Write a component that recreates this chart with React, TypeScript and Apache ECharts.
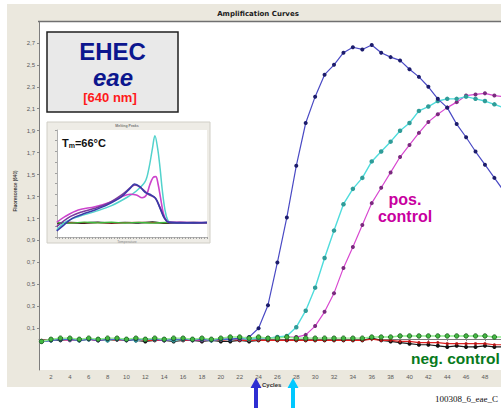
import React, { useEffect, useRef } from "react";
import * as echarts from "echarts";

// ---------- main amplification data (cycles 1..50) ----------
const cycles = [1,2,3,4,5,6,7,8,9,10,11,12,13,14,15,16,17,18,19,20,21,22,23,24,25,26,27,28,29,30,31,32,33,34,35,36,37,38,39,40,41,42,43,44,45,46,47,48,49,50];

const blueSample = [-0.02,-0.01,0.00,0.00,-0.01,0.00,-0.01,0.00,0.00,-0.01,0.00,0.00,0.00,-0.01,0.00,0.00,-0.01,0.00,-0.01,0.00,0.00,0.01,0.02,
  0.10,0.31,0.70,1.11,1.58,1.97,2.21,2.41,2.50,2.61,2.66,2.64,2.68,2.61,2.57,2.54,2.46,2.39,2.30,2.19,2.11,1.96,1.84,1.71,1.59,1.47,1.35];

const cyanSample = [-0.02,-0.01,0.00,0.00,-0.01,0.00,0.00,-0.01,0.00,0.00,-0.01,0.00,0.00,0.00,-0.01,0.00,0.00,0.00,-0.01,0.00,0.00,0.01,0.00,0.01,0.01,0.02,
  0.03,0.11,0.26,0.47,0.74,0.99,1.23,1.37,1.47,1.62,1.71,1.80,1.90,1.97,2.08,2.12,2.17,2.19,2.19,2.21,2.19,2.17,2.14,2.11];

const magentaPos = [-0.02,-0.01,0.00,-0.01,0.00,0.00,-0.01,0.00,0.00,0.00,-0.01,0.00,0.00,-0.01,0.00,0.00,0.00,-0.01,0.00,0.00,0.01,0.00,0.01,0.01,0.01,0.02,0.02,
  0.02,0.04,0.12,0.25,0.42,0.65,0.84,1.04,1.24,1.38,1.52,1.66,1.77,1.88,1.98,2.05,2.11,2.16,2.22,2.23,2.24,2.22,2.21];

const greenNeg = [-0.02,0.00,0.01,0.01,0.00,0.01,0.00,0.01,0.01,0.00,0.01,0.00,0.01,0.00,0.01,0.01,0.00,0.01,0.00,0.01,0.02,0.02,0.01,0.02,0.01,
  0.01,0.02,0.01,0.01,0.01,0.01,0.01,0.01,0.01,0.01,0.02,0.02,0.02,0.03,0.03,0.03,0.03,0.03,0.03,0.03,0.03,0.03,0.03,0.02,0.02];

const blackNeg = [-0.02,-0.01,-0.01,0.00,-0.01,0.00,-0.01,-0.01,0.00,-0.01,-0.01,-0.02,-0.01,-0.01,-0.02,-0.01,-0.01,-0.02,-0.01,-0.02,-0.02,-0.01,-0.02,-0.01,-0.01,
  -0.01,-0.01,-0.01,-0.01,-0.01,-0.01,-0.01,-0.01,-0.01,-0.01,0.01,-0.01,-0.02,-0.03,-0.04,-0.05,-0.05,-0.06,-0.07,-0.06,-0.07,-0.07,-0.06,-0.07,-0.07];

const redNeg = [-0.01,-0.01,0.00,-0.01,-0.01,0.00,-0.01,-0.01,-0.01,0.00,-0.01,-0.01,-0.01,-0.01,0.00,-0.01,-0.01,-0.01,-0.01,-0.01,0.00,-0.01,-0.01,-0.01,-0.01,
  -0.01,-0.01,-0.01,-0.01,-0.01,-0.01,-0.01,-0.01,-0.01,-0.01,0.00,-0.01,-0.01,-0.02,-0.02,-0.03,-0.03,-0.03,-0.04,-0.04,-0.04,-0.04,-0.04,-0.05,-0.05];

const xTickLabels = [2,4,6,8,10,12,14,16,18,20,22,24,26,28,30,32,34,36,38,40,42,44,46,48];
const yTickLabels = [0.1,0.3,0.5,0.7,0.9,1.1,1.3,1.5,1.7,1.9,2.1,2.3,2.5,2.7];

// ---------- inset melting peaks: [temperature, -dF/dT] ----------
const meltCyan = [[39.9,6.5],[42.9,13.7],[47.8,19.0],[53.9,23.7],[60.0,29.3],[66.1,37.7],[69.1,43.0],[72.3,51.7],[73.7,64.2],[75.0,82.9],[75.9,94.7],[76.9,82.9],[77.8,64.2],[78.6,43.9],[79.6,25.2],[80.6,15.9],[81.8,13.7],[88,13.4],[95,13.6]];
const meltBlue = [[39.9,5.6],[42.5,11.2],[45.6,17.4],[49.3,21.2],[53.9,25.2],[58.8,30.5],[63.7,37.7],[66.8,45.5],[68.4,49.5],[70.4,47.0],[72.3,41.7],[74.5,39.3],[76.2,36.1],[77.8,26.8],[79.4,17.4],[81.1,13.7],[88,13.2],[95,13.5]];
const meltPurple = [[39.9,9.7],[44.8,19.0],[49.3,23.7],[53.9,26.8],[58.8,31.5],[63.7,39.3],[67.4,47.0],[68.6,48.6],[71.0,45.5],[73.5,39.9],[75.9,36.7],[77.8,27.4],[79.4,18.1],[81.1,13.7],[88,13.5],[95,13.3]];
const meltMagenta = [[39.9,13.7],[42.9,19.0],[47.8,25.2],[53.9,28.3],[60.0,33.0],[64.3,38.3],[66.8,39.9],[69.1,39.3],[71.2,36.7],[72.8,39.3],[74.0,48.6],[75.2,55.5],[76.2,56.4],[77.0,50.2],[78.0,36.1],[79.0,22.1],[80.2,15.0],[81.5,13.7],[88,13.6],[95,13.4]];
const meltBlack = [[40,12.6],[45,13.4],[50,13.0],[55,13.8],[60,12.9],[65,13.6],[70,13.1],[75,13.9],[80,12.8],[85,13.5],[90,13.0],[95,13.4]];
const meltGreen = [[40,13.6],[45,13.0],[50,13.9],[55,13.2],[60,13.8],[65,13.1],[70,13.7],[75,13.0],[80,13.6],[85,13.1],[90,13.7],[95,13.2]];
const meltRed = [[40,13.3],[50,13.5],[60,13.2],[70,13.6],[80,13.3],[90,13.5],[95,13.3]];

const pairs = (vals: number[]) => cycles.map((c, i) => [c, vals[i]]);

export default function App() {
  const ref = useRef<HTMLDivElement>(null);
  useEffect(() => {
    if (!ref.current) return;
    const chart = echarts.init(ref.current, undefined, { renderer: "svg" });
    const lbl = { fontSize: 6, color: "#5a5a5a", fontFamily: "Liberation Sans" };
    const mainLine = (name: string, vals: number[], line: string, dot: string, size = 4, width = 1.2, z = 2, border?: string) => ({
      name, type: "line", data: pairs(vals), xAxisIndex: 0, yAxisIndex: 0,
      symbol: "circle", symbolSize: size, showSymbol: true, z,
      lineStyle: { color: line, width },
      itemStyle: { color: dot, borderColor: border || dot, borderWidth: border ? 0.8 : 0 },
      emphasis: { disabled: true },
    });
    const meltLine = (name: string, data: number[][], color: string, width = 1.5) => ({
      name, type: "line", data, xAxisIndex: 1, yAxisIndex: 1, symbol: "none", smooth: 0.35, z: 12,
      lineStyle: { color, width },
    });
    const option: any = {
      animation: false,
      backgroundColor: "#ffffff",
      grid: [
        { left: 39, top: 22, width: 462, height: 348, show: false },
        { left: 57, top: 130, width: 150, height: 107, show: false },
      ],
      xAxis: [
        {
          gridIndex: 0, type: "value", min: 0.73, max: 49.7,
          axisLine: { show: true, lineStyle: { color: "#7d7d7d", width: 1 } },
          axisTick: { show: true, customValues: xTickLabels, length: 2, lineStyle: { color: "#8a8a8a" } },
          axisLabel: { ...lbl, customValues: xTickLabels, margin: 4 },
          splitLine: { show: false },
        },
        {
          gridIndex: 1, type: "value", min: 40, max: 95, interval: 1, z: 12,
          axisLine: { show: true, lineStyle: { color: "#b0b0b0" } },
          axisTick: { show: true, length: 2, lineStyle: { color: "#a0a0a0" } },
          axisLabel: { show: false }, splitLine: { show: false },
        },
      ],
      yAxis: [
        {
          gridIndex: 0, type: "value", min: -0.28, max: 2.89,
          axisLine: { show: true, lineStyle: { color: "#7d7d7d", width: 1 } },
          axisTick: { show: true, customValues: yTickLabels, length: 2, lineStyle: { color: "#8a8a8a" } },
          axisLabel: { ...lbl, customValues: yTickLabels, margin: 4, formatter: (v: number) => (Math.round(v * 10) / 10).toFixed(1).replace(".", ",") },
          splitLine: { show: false },
        },
        {
          gridIndex: 1, type: "value", min: 0, max: 100, interval: 10, z: 12,
          axisLine: { show: true, lineStyle: { color: "#b0b0b0" } },
          axisTick: { show: true, length: 2, lineStyle: { color: "#a0a0a0" } },
          axisLabel: { show: false }, splitLine: { show: false },
        },
      ],
      graphic: [
        { type: "rect", z: -10, shape: { x: 7, y: 4, width: 494, height: 383 }, style: { fill: "#ebe8de" } },
        { type: "rect", z: -9, shape: { x: 39, y: 22, width: 462, height: 348 }, style: { fill: "#ffffff" } },
        { type: "line", z: -8, shape: { x1: 38, y1: 21.5, x2: 501, y2: 21.5 }, style: { stroke: "#707070", lineWidth: 1.5 } },
        { type: "text", z: 5, x: 258, y: 13.5, style: { text: "Amplification Curves", font: "bold 7px 'DejaVu Sans'", fill: "#1a1a1a", align: "center", verticalAlign: "middle" } },
        { type: "text", z: 5, x: 15, y: 191, rotation: Math.PI / 2, style: { text: "Fluorescence (640)", font: "bold 4.5px 'Liberation Sans'", fill: "#3a3a3a", align: "center", verticalAlign: "middle" } },
        { type: "text", z: 5, x: 262, y: 385, style: { text: "Cycles", font: "bold 6px 'Liberation Sans'", fill: "#333", align: "left", verticalAlign: "middle" } },
        // EHEC box
        { type: "rect", z: 5, shape: { x: 47, y: 32, width: 131, height: 80 }, style: { fill: "#e9e9e9", stroke: "#1f1f1f", lineWidth: 1.5 } },
        { type: "text", z: 6, x: 112.5, y: 51.5, style: { text: "EHEC", font: "bold 24px 'Liberation Sans'", fill: "#0c168e", align: "center", verticalAlign: "middle" } },
        { type: "text", z: 6, x: 113, y: 77, style: { text: "eae", font: "italic bold 24px 'Liberation Sans'", fill: "#0c168e", align: "center", verticalAlign: "middle" } },
        { type: "text", z: 6, x: 110, y: 97.5, style: { text: "[640 nm]", font: "bold 13px 'Liberation Sans'", fill: "#ff1a1a", align: "center", verticalAlign: "middle" } },
        // inset frame
        { type: "rect", z: 5, shape: { x: 47, y: 122, width: 163, height: 121 }, style: { fill: "#eeece6", stroke: "#d0cec6", lineWidth: 1 } },
        { type: "rect", z: 6, shape: { x: 57, y: 130, width: 150, height: 107 }, style: { fill: "#ffffff" } },
        { type: "text", z: 7, x: 127, y: 126, style: { text: "Melting Peaks", font: "bold 3.5px 'Liberation Sans'", fill: "#777", align: "center", verticalAlign: "middle" } },
        { type: "text", z: 7, x: 127, y: 241.5, style: { text: "Temperature", font: "3.5px 'Liberation Sans'", fill: "#888", align: "center", verticalAlign: "middle" } },
        { type: "text", z: 14, x: 62, y: 143, style: { rich: { a: { font: "bold 11px 'Liberation Sans'", fill: "#111" }, b: { font: "bold 7px 'Liberation Sans'", fill: "#111", padding: [5, 0, 0, 0] } }, text: "{a|T}{b|m}{a|=66°C}", verticalAlign: "middle" } },
        // annotations
        { type: "text", z: 20, x: 405, y: 207.5, style: { text: "pos.\ncontrol", font: "bold 16px 'Liberation Sans'", lineHeight: 17, fill: "#c800a0", align: "center", verticalAlign: "middle" } },
        { type: "text", z: 20, x: 411, y: 358, style: { text: "neg. control", font: "bold 15.5px 'Liberation Sans'", fill: "#077a1c", align: "left", verticalAlign: "middle" } },
        // arrows
        { type: "polygon", z: 20, shape: { points: [[256, 378], [261.5, 388], [258, 388], [258, 408], [254, 408], [254, 388], [250.5, 388]] }, style: { fill: "#2e2ed2" } },
        { type: "polygon", z: 20, shape: { points: [[293, 378], [298.5, 388], [295, 388], [295, 408], [291, 408], [291, 388], [287.5, 388]] }, style: { fill: "#00c8ff" } },
        { type: "text", z: 20, x: 435, y: 399, style: { text: "100308_6_eae_C", font: "9px 'Liberation Serif'", fill: "#111", align: "left", verticalAlign: "middle" } },
      ],
      series: [
        mainLine("neg black", blackNeg, "#1a1a1a", "#111111", 4, 1.2, 2),
        mainLine("neg red", redNeg, "#e02020", "#b01515", 3, 1.2, 2),
        mainLine("pos. control", magentaPos, "#d848d0", "#7a2a7e", 4, 1.2, 3),
        mainLine("sample cyan", cyanSample, "#4fdcdc", "#2f9c98", 4.5, 1.4, 3),
        mainLine("sample blue", blueSample, "#4a4ac4", "#1c1c6c", 4, 1.2, 4),
        mainLine("neg green", greenNeg, "#8ef08e", "#42b842", 4.5, 1.4, 5, "#1e5a1e"),
        meltLine("melt black", meltBlack, "#1a1a1a", 1.6),
        meltLine("melt red", meltRed, "#d02020", 1.2),
        meltLine("melt green", meltGreen, "#3cb83c", 1.4),
        meltLine("melt cyan", meltCyan, "#52d2cc", 1.5),
        meltLine("melt magenta", meltMagenta, "#cc44cc", 1.6),
        meltLine("melt purple", meltPurple, "#7a3a9c", 1.6),
        meltLine("melt blue", meltBlue, "#3a3aa8", 1.6),
      ],
    };
    chart.setOption(option);
    return () => chart.dispose();
  }, []);
  return <div ref={ref} style={{ position: "fixed", left: 0, top: 0, width: 501, height: 408 }} />;
}
